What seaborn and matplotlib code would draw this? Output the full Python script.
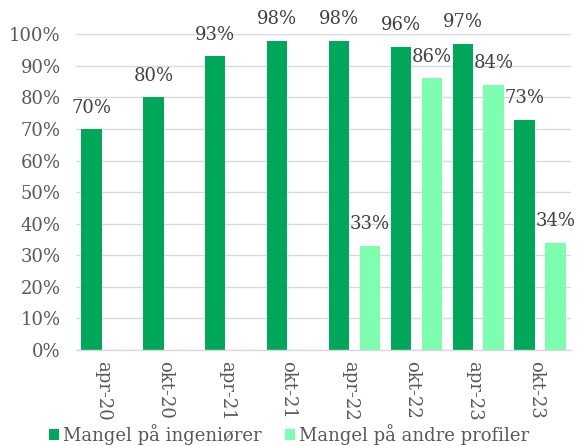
import numpy as np
import pandas as pd
import seaborn as sns
import matplotlib.pyplot as plt
import matplotlib.transforms as mtransforms
from matplotlib.patches import Patch
from matplotlib.ticker import FuncFormatter

# data
perioder = ["apr-20", "okt-20", "apr-21", "okt-21", "apr-22", "okt-22", "apr-23", "okt-23"]
ingeniorer = [70, 80, 93, 98, 98, 96, 97, 73]
andre_profiler = [np.nan, np.nan, np.nan, np.nan, 33, 86, 84, 34]
serier = ["Mangel på ingeniører", "Mangel på andre profiler"]
farger = ["#00A65A", "#7DFFAF"]

df = pd.DataFrame({
    "periode": perioder * 2,
    "serie": [serier[0]] * len(perioder) + [serier[1]] * len(perioder),
    "andel": ingeniorer + andre_profiler,
}).dropna()

sns.set_theme(style="white")
plt.rcParams["font.family"] = ["DejaVu Serif"]

fig = plt.figure(figsize=(5.78, 4.46), dpi=100)
ax = fig.add_axes([76 / 578, 1 - 350 / 446, (571 - 76) / 578, (350 - 34.3) / 446])

sns.barplot(data=df, x="periode", y="andel", hue="serie", order=perioder,
            hue_order=serier, palette=farger, saturation=1, width=1.0, gap=0.34,
            linewidth=0, legend=False, ax=ax)

for c in ax.containers:
    ax.bar_label(c, fmt="{:.0f}%", padding=9, fontsize=13, color="#404040")

ax.set_xlim(-0.5, len(perioder) - 0.5)
ax.set_ylim(0, 100)
ax.set_yticks(range(0, 101, 10))
ax.yaxis.set_major_formatter(FuncFormatter(lambda v, p: f"{v:.0f}%"))
ax.set_xlabel("")
ax.set_ylabel("")

ax.yaxis.grid(True, color="#D9D9D9", lw=1)
ax.set_axisbelow(True)
for s in ["left", "top", "right"]:
    ax.spines[s].set_visible(False)
ax.spines["bottom"].set_color("#D9D9D9")
ax.spines["bottom"].set_linewidth(1)

ax.tick_params(axis="y", length=0, pad=11, labelsize=13, labelcolor="#595959")
ax.tick_params(axis="x", length=0, pad=8, labelsize=13, labelcolor="#595959")
shift = mtransforms.ScaledTranslation(-4 / 100, 0, fig.dpi_scale_trans)
for t in ax.get_xticklabels():
    t.set_rotation(-90)
    t.set_va("top")
    t.set_ha("center")
    t.set_transform(t.get_transform() + shift)

ax.set_xticks([-0.5, 5.5], minor=True)
ax.tick_params(axis="x", which="minor", length=5, width=1, color="#D9D9D9", direction="out")

handles = [Patch(facecolor=f, edgecolor="none", label=s) for f, s in zip(farger, serier)]
fig.legend(handles=handles, loc="lower center", bbox_to_anchor=(0.5, -0.025), ncol=2,
           frameon=False, fontsize=13, handlelength=0.55, handleheight=0.55,
           handletextpad=0.2, columnspacing=1.3, labelcolor="#595959", borderpad=0.2)

fig.savefig("out.png", dpi=100)
